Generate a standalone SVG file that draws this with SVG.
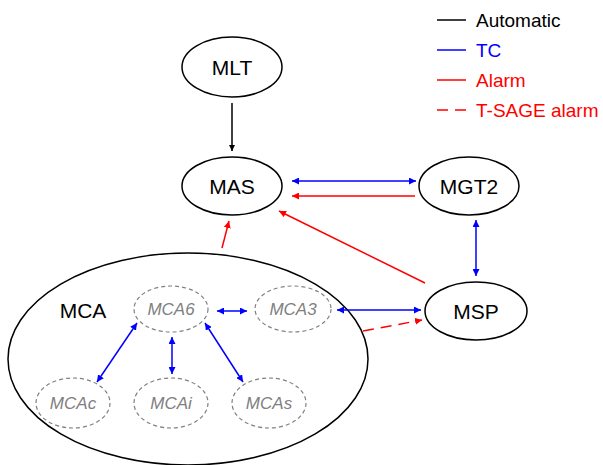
<svg xmlns="http://www.w3.org/2000/svg" width="603" height="465" viewBox="0 0 603 465">
<defs>
<marker id="ak" viewBox="0 0 10 10" refX="10" refY="5" markerWidth="6" markerHeight="6" orient="auto-start-reverse" markerUnits="userSpaceOnUse"><path d="M0,0 L10,5 L0,10 z" fill="#000"/></marker>
<marker id="ab" viewBox="0 0 10 10" refX="10" refY="5" markerWidth="7" markerHeight="7" orient="auto-start-reverse" markerUnits="userSpaceOnUse"><path d="M0,0 L10,5 L0,10 z" fill="#0000ff"/></marker>
<marker id="ar" viewBox="0 0 10 10" refX="10" refY="5" markerWidth="7" markerHeight="7" orient="auto-start-reverse" markerUnits="userSpaceOnUse"><path d="M0,0 L10,5 L0,10 z" fill="#ff0000"/></marker>
</defs>
<style>
.n{fill:#fff;stroke:#000;stroke-width:1.5}
.s{fill:none;stroke:#808080;stroke-width:1.2;stroke-dasharray:4 3}
.t{font-family:"Liberation Sans",Arial,sans-serif;font-size:21px;fill:#000;text-anchor:middle}
.st{font-family:"Liberation Sans",Arial,sans-serif;font-size:17px;font-style:italic;fill:#808080;text-anchor:middle}
.lg{font-family:"Liberation Sans",Arial,sans-serif;font-size:19px}
.k{stroke:#000;stroke-width:1.5;fill:none}
.b{stroke:#0000ff;stroke-width:1.5;fill:none}
.r{stroke:#ff0000;stroke-width:1.5;fill:none}
</style>
<rect width="603" height="465" fill="#fff"/>
<g id="legend">
<line x1="437" y1="20" x2="466" y2="20" class="k"/><text x="476" y="27" class="lg" fill="#000">Automatic</text>
<line x1="437" y1="50" x2="466" y2="50" class="b"/><text x="476" y="57" class="lg" fill="#0000ff">TC</text>
<line x1="437" y1="80" x2="466" y2="80" class="r"/><text x="476" y="87" class="lg" fill="#ff0000">Alarm</text>
<line x1="437" y1="110" x2="466" y2="110" class="r" stroke-dasharray="11 7"/><text x="476" y="117" class="lg" fill="#ff0000">T-SAGE alarm</text>
</g>
<g id="MCA"><ellipse cx="188" cy="359" rx="180" ry="106" class="n"/><text x="83" y="318" class="t">MCA</text></g>
<g id="MLT"><ellipse cx="232" cy="67" rx="50" ry="30" class="n"/><text x="232" y="75" class="t">MLT</text></g>
<g id="MAS"><ellipse cx="232" cy="186" rx="50" ry="29" class="n"/><text x="232" y="194" class="t">MAS</text></g>
<g id="MGT2"><ellipse cx="469" cy="186" rx="50" ry="29" class="n"/><text x="469" y="194" class="t">MGT2</text></g>
<g id="MSP"><ellipse cx="476" cy="311" rx="51" ry="29" class="n"/><text x="476" y="319" class="t">MSP</text></g>
<g id="MCA6"><ellipse cx="171" cy="309" rx="37" ry="23" class="s"/><text x="171" y="315" class="st">MCA6</text></g>
<g id="MCA3"><ellipse cx="293" cy="309" rx="38" ry="23" class="s"/><text x="293" y="315" class="st">MCA3</text></g>
<g id="MCAc"><ellipse cx="73" cy="403" rx="37" ry="25" class="s"/><text x="73" y="409" class="st">MCAc</text></g>
<g id="MCAi"><ellipse cx="171" cy="403" rx="37" ry="25" class="s"/><text x="171" y="409" class="st">MCAi</text></g>
<g id="MCAs"><ellipse cx="269" cy="403" rx="37" ry="25" class="s"/><text x="269" y="409" class="st">MCAs</text></g>
<g id="connectors">
<line x1="232" y1="103" x2="232" y2="151" class="k" marker-end="url(#ak)"/>
<line x1="292" y1="181" x2="416" y2="181" class="b" marker-start="url(#ab)" marker-end="url(#ab)"/>
<line x1="415" y1="196" x2="292" y2="196" class="r" marker-end="url(#ar)"/>
<line x1="425" y1="283" x2="279" y2="211" class="r" marker-end="url(#ar)"/>
<line x1="222" y1="248" x2="229" y2="221" class="r" marker-end="url(#ar)"/>
<line x1="476" y1="220" x2="476" y2="276" class="b" marker-start="url(#ab)" marker-end="url(#ab)"/>
<line x1="337" y1="310" x2="421" y2="310" class="b" marker-start="url(#ab)" marker-end="url(#ab)"/>
<line x1="363" y1="331" x2="422" y2="320" class="r" stroke-dasharray="11 7" marker-end="url(#ar)"/>
<line x1="217" y1="311" x2="247" y2="311" class="b" marker-start="url(#ab)" marker-end="url(#ab)"/>
<line x1="137" y1="323" x2="97" y2="382" class="b" marker-start="url(#ab)" marker-end="url(#ab)"/>
<line x1="172" y1="337" x2="172" y2="374" class="b" marker-start="url(#ab)" marker-end="url(#ab)"/>
<line x1="205" y1="323" x2="243" y2="382" class="b" marker-start="url(#ab)" marker-end="url(#ab)"/>
</g>
</svg>
